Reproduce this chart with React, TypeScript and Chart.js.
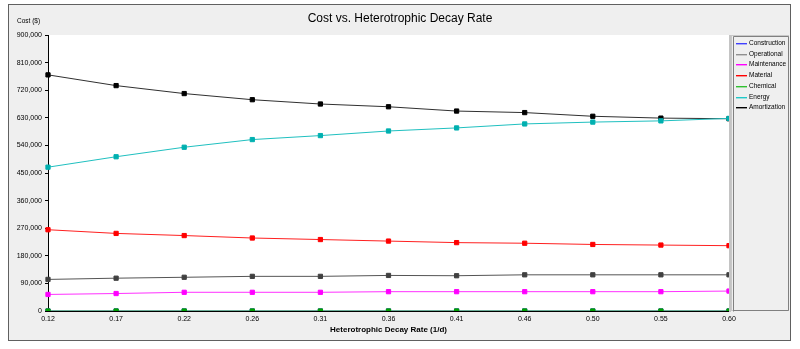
import React, { useEffect, useRef } from "react";
import { Chart, registerables } from "chart.js";

Chart.register(...registerables);

const categories = ["0.12", "0.17", "0.22", "0.26", "0.31", "0.36", "0.41", "0.46", "0.50", "0.55", "0.60"];
const construction = [0, 0, 0, 0, 0, 0, 0, 0, 0, 0, 0];
const operational = [103000, 107000, 110000, 113000, 113000, 116000, 115000, 118000, 118000, 118000, 118000];
const maintenance = [54000, 57000, 61000, 61000, 61000, 63000, 63000, 63000, 63000, 63000, 65000];
const material = [265000, 253000, 246000, 238000, 233000, 228000, 223000, 221000, 217000, 215000, 213000];
const chemical = [0, 0, 0, 0, 0, 0, 0, 0, 0, 0, 0];
const energy = [469000, 503000, 534000, 559000, 572000, 587000, 597000, 610000, 616000, 620000, 628000];
const amortization = [770000, 735000, 709000, 689000, 675000, 666000, 652000, 647000, 635000, 629000, 627000];

const seriesNames = ["Construction", "Operational", "Maintenance", "Material", "Chemical", "Energy", "Amortization"];
const seriesData = [construction, operational, maintenance, material, chemical, energy, amortization];
const lineColors = ["#5050ff", "#555555", "#ff30ff", "#ff2020", "#30b030", "#20c0c0", "#303030"];
const markerColors = ["#3030ff", "#404040", "#ff00ff", "#ff0000", "#00a000", "#00b0b0", "#000000"];
const legendColors = ["#4040ff", "#909090", "#ff00ff", "#ff0000", "#30c030", "#20c8c8", "#000000"];
const drawOrder = [10, 0, 0, 0, 0, 0, 0];

const titleText = "Cost vs. Heterotrophic Decay Rate";
const yTitleText = "Cost ($)";
const xTitleText = "Heterotrophic Decay Rate (1/d)";

const FONT = "'Liberation Sans', Arial, sans-serif";

const decorPlugin = {
  id: "decor",
  beforeDraw(chart: any) {
    const { ctx, chartArea } = chart;
    ctx.save();
    ctx.fillStyle = "#ffffff";
    ctx.fillRect(0, 0, chart.width, chart.height);
    ctx.fillStyle = "#efefef";
    ctx.fillRect(8, 4, 783, 337);
    ctx.strokeStyle = "#606060";
    ctx.lineWidth = 1;
    ctx.strokeRect(8.5, 4.5, 782, 336);
    ctx.fillStyle = "#ffffff";
    ctx.fillRect(chartArea.left, chartArea.top, chartArea.right - chartArea.left, chartArea.bottom - chartArea.top);
    ctx.restore();
  },
  afterDraw(chart: any) {
    const { ctx, chartArea } = chart;
    ctx.save();
    // separator band
    ctx.fillStyle = "#c4c4c4";
    ctx.fillRect(chartArea.right, chartArea.top, 2, chartArea.bottom - chartArea.top + 1);
    // legend box
    ctx.fillStyle = "#efefef";
    ctx.fillRect(732, 35, 57, 276);
    ctx.strokeStyle = "#c8c8c8";
    ctx.lineWidth = 1;
    ctx.strokeRect(731.5, 35.5, 57, 275);
    ctx.strokeStyle = "#808080";
    ctx.beginPath();
    ctx.moveTo(733.5, 311.5);
    ctx.lineTo(733.5, 36.5);
    ctx.lineTo(788.5, 36.5);
    ctx.moveTo(788.5, 36.5);
    ctx.lineTo(788.5, 310.5);
    ctx.lineTo(733.5, 310.5);
    ctx.stroke();
    ctx.font = `6.5px ${FONT}`;
    ctx.textBaseline = "middle";
    ctx.textAlign = "left";
    chart.data.datasets.forEach((ds: any, i: number) => {
      const y = Math.round(43 + i * 10.7);
      ctx.fillStyle = legendColors[i];
      ctx.fillRect(736, y, 11, 1);
      ctx.globalAlpha = 0.4;
      ctx.fillRect(736, y + 1, 11, 1);
      ctx.globalAlpha = 1;
      ctx.fillStyle = "#000000";
      ctx.fillText(ds.label, 749, y + 0.5);
    });
    // titles
    ctx.fillStyle = "#000000";
    ctx.textAlign = "center";
    ctx.font = `12px ${FONT}`;
    ctx.fillText(titleText, 400, 19);
    ctx.textAlign = "left";
    ctx.font = `6.5px ${FONT}`;
    ctx.fillText(yTitleText, 17, 21);
    ctx.textAlign = "center";
    ctx.font = `bold 8px 'Liberation Sans Narrow', ${FONT}`;
    ctx.fillText(xTitleText, (chartArea.left + chartArea.right) / 2, 330);
    ctx.restore();
  },
};

export default function App() {
  const ref = useRef<HTMLCanvasElement>(null);
  useEffect(() => {
    if (!ref.current) return;
    const chart = new Chart(ref.current, {
      type: "line",
      data: {
        labels: categories,
        datasets: seriesNames.map((name, i) => ({
          label: name,
          data: seriesData[i],
          order: drawOrder[i],
          borderColor: lineColors[i],
          backgroundColor: markerColors[i],
          borderWidth: 1,
          tension: 0,
          pointStyle: "rect",
          pointRadius: 3,
          pointBorderWidth: 1,
          pointBorderColor: markerColors[i],
          pointBackgroundColor: markerColors[i],
          fill: false,
        })),
      },
      options: {
        responsive: false,
        animation: false,
        devicePixelRatio: 1,
        layout: { padding: { top: 35, right: 71, bottom: 0, left: 0 } },
        plugins: {
          legend: { display: false },
          title: { display: false },
          tooltip: { enabled: false },
        },
        scales: {
          x: {
            type: "category",
            offset: false,
            z: 1,
            grid: { display: true, drawOnChartArea: false, drawTicks: false, color: "transparent" },
            border: { display: true, color: "#000000", width: 1 },
            ticks: {
              color: "#000000",
              font: { size: 7, family: FONT },
              padding: 4,
              maxRotation: 0,
              autoSkip: false,
            },
            afterFit(scale: any) {
              scale.height = 38;
            },
          },
          y: {
            min: 0,
            max: 900000,
            z: 1,
            grid: { display: true, drawOnChartArea: false, drawTicks: true, tickLength: 3, color: "#000000" },
            border: { display: true, color: "#000000", width: 1 },
            ticks: {
              stepSize: 90000,
              color: "#000000",
              font: { size: 7, family: FONT },
              padding: 3,
              callback: (v: any) => Number(v).toLocaleString("en-US"),
            },
            afterFit(scale: any) {
              scale.width = 48;
            },
          },
        },
      },
      plugins: [decorPlugin],
    });
    return () => chart.destroy();
  }, []);
  return (
    <div style={{ position: "absolute", left: 0, top: 0, width: 800, height: 349 }}>
      <canvas ref={ref} width={800} height={349} style={{ width: 800, height: 349, display: "block" }} />
    </div>
  );
}
